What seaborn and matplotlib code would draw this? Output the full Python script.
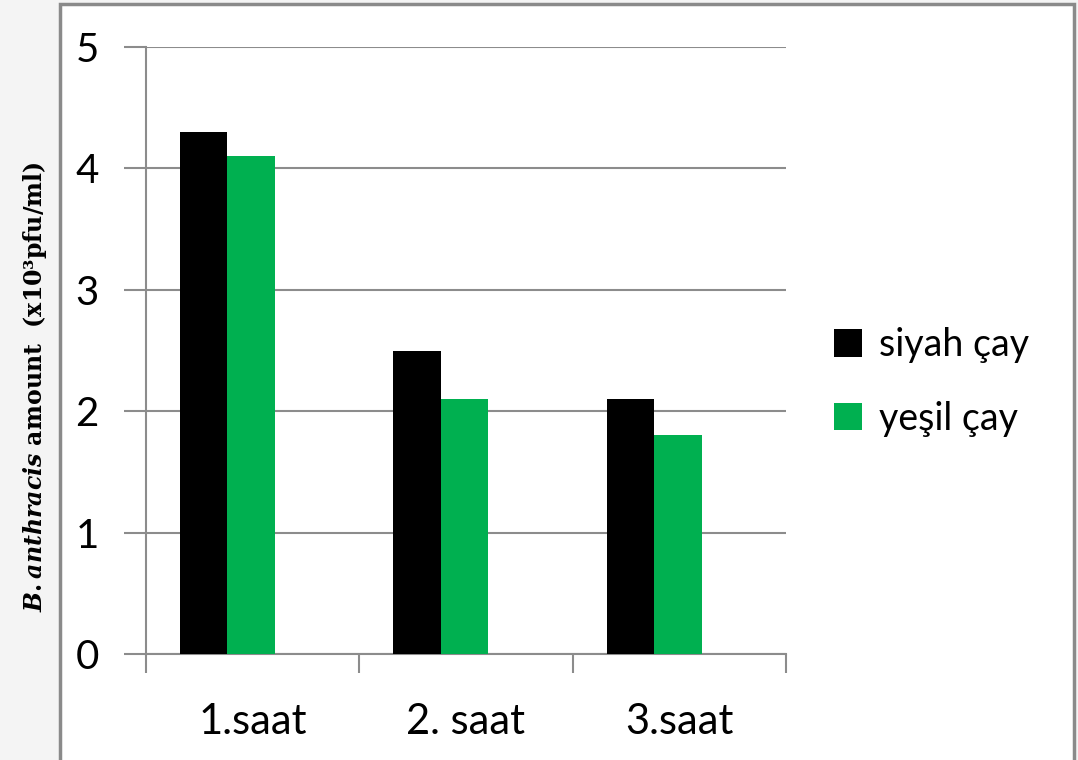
import matplotlib
matplotlib.use("Agg")
import matplotlib.pyplot as plt
import seaborn as sns
import pandas as pd
from matplotlib.patches import Rectangle, Patch

categories = ["1.saat", "2. saat", "3.saat"]
series_names = ["siyah çay", "yeşil çay"]
siyah = [4.3, 2.5, 2.1]
yesil = [4.1, 2.1, 1.8]
colors = ["#000000", "#00b050"]
yticks = [0, 1, 2, 3, 4, 5]

df = pd.DataFrame({
    "cat": categories * 2,
    "series": [series_names[0]] * 3 + [series_names[1]] * 3,
    "value": siyah + yesil,
})

sns.set_theme(style="white")
plt.rcParams["font.family"] = ["Lato", "DejaVu Sans"]
plt.rcParams["text.color"] = "black"
plt.rcParams["mathtext.fontset"] = "custom"
plt.rcParams["mathtext.rm"] = "DejaVu Serif:bold"
plt.rcParams["mathtext.bf"] = "DejaVu Serif:bold"
plt.rcParams["mathtext.it"] = "DejaVu Serif:bold:italic"

W, H = 1078, 760
fig = plt.figure(figsize=(W / 100, H / 100), dpi=100, facecolor="#f4f4f4")
# white panel with gray border
panel = Rectangle((60 / W, -0.05), (1074 - 60) / W, 1 - 4 / H + 0.05,
                  transform=fig.transFigure, facecolor="white",
                  edgecolor="#8a8a8a", linewidth=2.5, zorder=-10)
fig.patches.append(panel)

ax = fig.add_axes([146 / W, 1 - 654 / H, (786 - 146) / W, (654 - 47) / H])
ax.set_zorder(5)
ax.set_facecolor("none")
sns.barplot(data=df, x="cat", y="value", hue="series", palette=colors,
            width=0.445, saturation=1, ax=ax, legend=False, zorder=3,
            linewidth=0)

# bar clusters sit left of the category centre in the original chart
off = 0.118
ax.set_ylim(0, 5)
ax.set_xlim(-0.5 + off, 2.5 + off)
ax.set_yticks(yticks)
ax.set_yticklabels([str(t) for t in yticks], fontsize=29)
ax.grid(axis="y", color="#8c8c8c", linewidth=1.5, zorder=0)
ax.set_axisbelow(True)
for s in ["top", "right"]:
    ax.spines[s].set_visible(False)
for s in ["left", "bottom"]:
    ax.spines[s].set_color("#8c8c8c")
    ax.spines[s].set_linewidth(1.5)
ax.tick_params(axis="y", length=16, width=1.5, color="#8c8c8c", pad=18, left=True)
ax.set_xticks([i + off for i in range(3)])
ax.set_xticklabels(categories, fontsize=30)
ax.set_xticks([-0.5 + off + i for i in range(4)], minor=True)
ax.tick_params(axis="x", which="major", length=0, pad=35)
ax.tick_params(axis="x", which="minor", length=14, width=1.5, color="#8c8c8c", bottom=True)
ax.set_xlabel("")
ax.set_ylabel("")
for lbl in ax.get_xticklabels() + ax.get_yticklabels():
    lbl.set_color("#000000")

fig.text(35 / W, 1 - 387 / H,
         r"$\mathit{B.anthracis}$" + " amount  (x10³pfu/ml)",
         rotation=90, ha="center", va="center", fontsize=17,
         fontfamily="DejaVu Serif", fontweight="bold", zorder=10)

handles = [Patch(facecolor=c, edgecolor="none") for c in colors]
leg = fig.legend(handles, series_names, loc="center left",
                 bbox_to_anchor=(800 / W, 1 - 382 / H), frameon=False, fontsize=27,
                 handlelength=0.75, handleheight=0.75, handletextpad=0.45,
                 labelspacing=1.0)
leg.set_zorder(10)

fig.savefig("out.png", dpi=100, facecolor=fig.get_facecolor())
